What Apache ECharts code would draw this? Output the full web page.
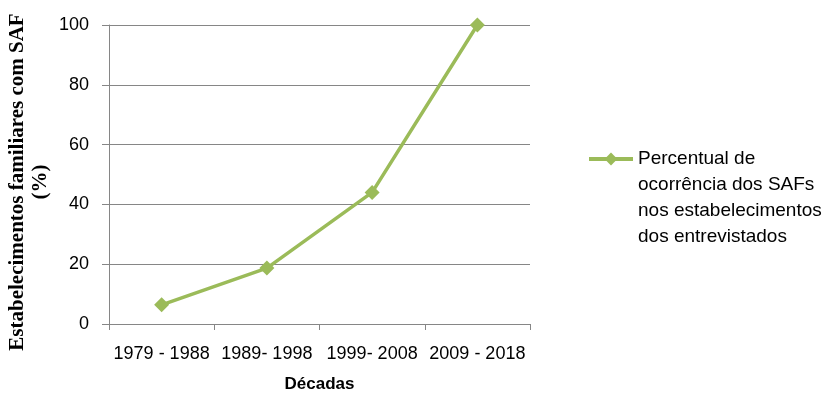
<!DOCTYPE html>
<html>
<head>
<meta charset="utf-8">
<script src="https://cdn.jsdelivr.net/npm/echarts@6/dist/echarts.min.js"></script>
<style>
    html, body { margin: 0; padding: 0; background: #fff; }
    #chart { width: 825px; height: 398px; }
</style>
</head>
<body>
<div id="chart"></div>
<script>
    var decadas = ['1979 - 1988', '1989- 1998', '1999- 2008', '2009 - 2018'];
    var percentual = [6.4, 18.7, 44, 100];
    var serieNome = 'Percentual de ocorrência dos SAFs nos estabelecimentos dos entrevistados';
    var legendaLinhas = ['Percentual de', 'ocorrência dos SAFs', 'nos estabelecimentos', 'dos entrevistados'];
    var tituloY = 'Estabelecimentos familiares com SAF\n(%)';

    var chart = echarts.init(document.getElementById('chart'));
    var fonte = '"Liberation Sans", Arial, sans-serif';

    var option = {
        animation: false,
        grid: { left: 109, right: 295, top: 25, bottom: 74, outerBoundsMode: 'none' },
        legend: {
            left: 587,
            top: 68,
            padding: 0,
            itemWidth: 44,
            itemHeight: 16,
            data: [serieNome],
            lineStyle: { width: 4 },
            formatter: function () {
                // linhas vazias para alinhar o ícone com a primeira linha
                return '\n\n\n' + legendaLinhas.join('\n');
            },
            textStyle: { fontFamily: fonte, fontSize: 19, color: '#000', lineHeight: 26 }
        },
        graphic: [{
            type: 'text',
            x: 29,
            y: 182,
            rotation: Math.PI / 2,
            style: {
                text: tituloY,
                align: 'center',
                verticalAlign: 'middle',
                fontFamily: '"Liberation Serif", "Times New Roman", serif',
                fontSize: 21,
                fontWeight: 'bold',
                lineHeight: 23,
                fill: '#000'
            }
        }],
        xAxis: {
            type: 'category',
            data: decadas,
            boundaryGap: true,
            name: 'Décadas',
            nameLocation: 'middle',
            nameGap: 52,
            nameTextStyle: { fontFamily: fonte, fontSize: 17, fontWeight: 'bold', color: '#000' },
            axisLine: { lineStyle: { color: '#868686', width: 1 } },
            axisTick: { show: true, length: 6, interval: 0, lineStyle: { color: '#868686' } },
            axisLabel: { margin: 21, interval: 0, fontFamily: fonte, fontSize: 18, color: '#000' }
        },
        yAxis: {
            type: 'value',
            min: 0,
            max: 100,
            interval: 20,
            axisLine: { show: true, lineStyle: { color: '#868686', width: 1 } },
            axisTick: { show: true, length: 7, lineStyle: { color: '#868686' } },
            axisLabel: { margin: 20, fontFamily: fonte, fontSize: 18, color: '#000' },
            splitLine: { lineStyle: { color: '#868686', width: 1 } }
        },
        series: [{
            name: serieNome,
            type: 'line',
            data: percentual,
            symbol: 'diamond',
            symbolSize: 15,
            lineStyle: { color: '#9BBB59', width: 3.5 },
            itemStyle: { color: '#9BBB59' }
        }]
    };
    chart.setOption(option);
</script>
</body>
</html>
